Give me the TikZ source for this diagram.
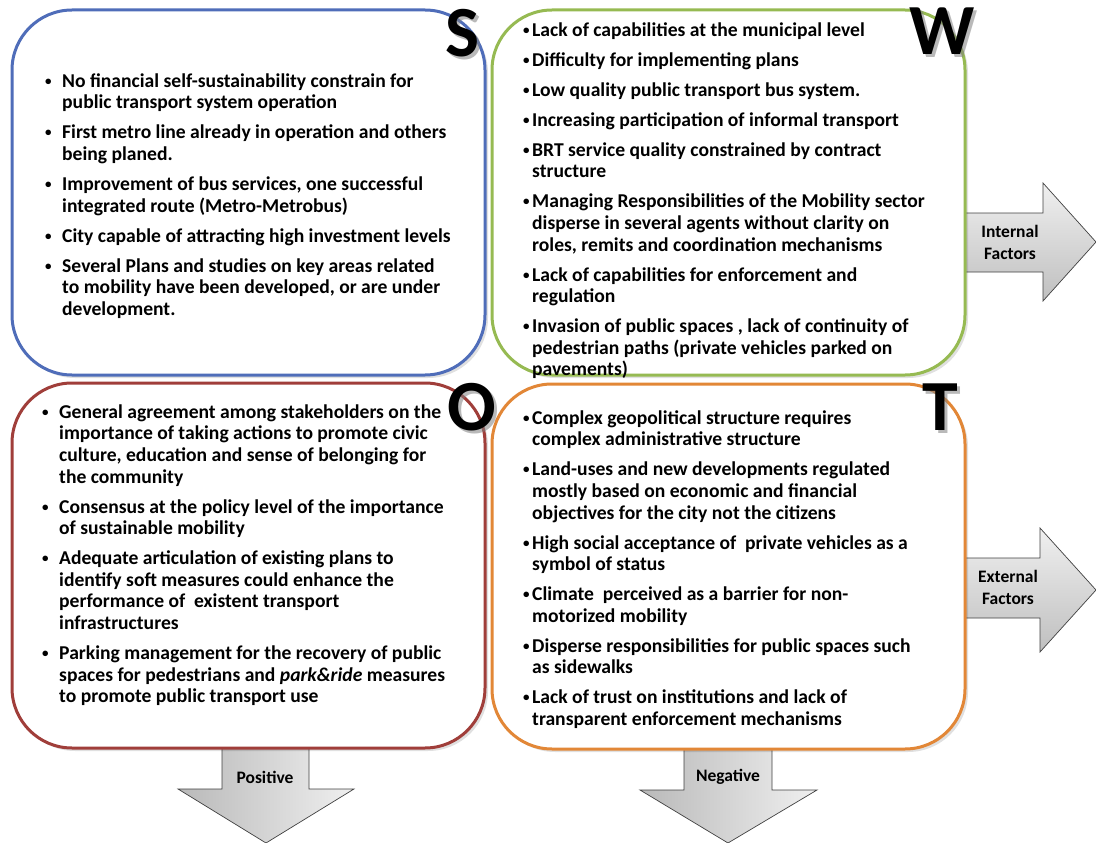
\documentclass[tikz,border=0pt]{standalone}
\usepackage{fontspec}
\setmainfont{Carlito}
\definecolor{sblue}{RGB}{79,109,185}
\definecolor{wgreen}{RGB}{150,186,82}
\definecolor{ored}{RGB}{160,62,58}
\definecolor{torange}{RGB}{226,135,55}
\newcommand{\swotbul}[1]{\llap{\makebox[#1pt][l]{\raisebox{2pt}{\fontsize{13}{13}\selectfont\textbullet}}}}
\begin{document}
\begin{tikzpicture}[x=1pt,y=-1pt,
  swotbox/.style={line width=3pt, rounded corners=60pt, fill=white, inner sep=0pt, minimum width=473pt, minimum height=365pt},
  boxshadow/.style={fill=black, opacity=0.12, rounded corners=60pt, inner sep=0pt, minimum width=473pt, minimum height=365pt},
  arrowshape/.style={draw=gray!50!black, line width=0.7pt},
  txt/.style={anchor=north west, align=left, inner sep=0pt, font=\fontsize{19.6}{21.6}\selectfont\bfseries},
  biglet/.style={anchor=base, inner sep=0pt, font=\fontsize{72}{72}\selectfont\bfseries},
  letshadow/.style={biglet, text=gray, opacity=0.55},
  lbl/.style={align=center, inner sep=0pt, font=\fontsize{17.5}{22}\selectfont\bfseries}
]
\useasboundingbox (0,0) rectangle (1096,843);

% arrows (behind the boxes)
\shadedraw[arrowshape, top color=gray!12, bottom color=gray!50]
  (940,213) -- (1043,213) -- (1043,183) -- (1096,242) -- (1043,301) -- (1043,272) -- (940,272) -- cycle;
\shadedraw[arrowshape, top color=gray!12, bottom color=gray!50]
  (940,558) -- (1040,558) -- (1040,528) -- (1096,590) -- (1040,652) -- (1040,618) -- (940,618) -- cycle;
\shadedraw[arrowshape, left color=gray!55, right color=gray!12]
  (222,740) -- (222,789) -- (178,789) -- (266,843) -- (354,789) -- (309,789) -- (309,740) -- cycle;
\shadedraw[arrowshape, left color=gray!55, right color=gray!12]
  (684,740) -- (684,790) -- (640,790) -- (728,843) -- (817,790) -- (772,790) -- (772,740) -- cycle;

\node[lbl] (internal) at (1010,242) {Internal\\Factors};
\node[lbl] (external) at (1008,587) {External\\Factors};
\node[lbl] (positive) at (265,777) {Positive};
\node[lbl] (negative) at (728,777) {Negative};

% shadows
\node[boxshadow] (Ssh) at (251.5,195.5) {};
\node[boxshadow] (Wsh) at (731.5,195.5) {};
\node[boxshadow] (Osh) at (251.5,568.5) {};
\node[boxshadow] (Tsh) at (731.5,569.5) {};

% boxes
\node[swotbox, draw=sblue] (Sbox) at (248.5,192.5) {};
\node[swotbox, draw=wgreen] (Wbox) at (728.5,192.5) {};
\node[swotbox, draw=ored] (Obox) at (248.5,565.5) {};
\node[swotbox, draw=torange] (Tbox) at (728.5,566.5) {};

% texts (first baseline = y + 15.12)
\node[txt] (Stext) at (62,71.9) {%
\strut\swotbul{17}No financial self-sustainability constrain for\\
public transport system operation\\[8.4pt]
\swotbul{17}First metro line already in operation and others\\
being planed.\\[8.4pt]
\swotbul{17}Improvement of bus services, one successful\\
integrated route (Metro-Metrobus)\\[8.4pt]
\swotbul{17}City capable of attracting high investment levels\\[8.4pt]
\swotbul{17}Several Plans and studies on key areas related\\
to mobility have been developed, or are under\\
development.};

\node[txt] (Wtext) at (532,20.9) {%
\strut\swotbul{9}Lack of capabilities at the municipal level\\[8.4pt]
\swotbul{9}Difficulty for implementing plans\\[8.4pt]
\swotbul{9}Low quality public transport bus system.\\[8.4pt]
\swotbul{9}Increasing participation of informal transport\\[8.4pt]
\swotbul{9}BRT service quality constrained by contract\\
structure\\[8.4pt]
\swotbul{9}Managing Responsibilities of the Mobility sector\\
disperse in several agents without clarity on\\
roles, remits and coordination mechanisms\\[8.4pt]
\swotbul{9}Lack of capabilities for enforcement and\\
regulation\\[8.4pt]
\swotbul{9}Invasion of public spaces , lack of continuity of\\
pedestrian paths (private vehicles parked on\\
pavements)};

\node[txt] (Otext) at (59,402.9) {%
\strut\swotbul{17}General agreement among stakeholders on the\\
importance of taking actions to promote civic\\
culture, education and sense of belonging for\\
the community\\[8.4pt]
\swotbul{17}Consensus at the policy level of the importance\\
of sustainable mobility\\[8.4pt]
\swotbul{17}Adequate articulation of existing plans to\\
identify soft measures could enhance the\\
performance of \ existent transport\\
infrastructures\\[8.4pt]
\swotbul{17}Parking management for the recovery of public\\
spaces for pedestrians and \textit{park\&ride} measures\\
to promote public transport use};

\node[txt] (Ttext) at (532,408.9) {%
\strut\swotbul{9}Complex geopolitical structure requires\\
complex administrative structure\\[8.4pt]
\swotbul{9}Land-uses and new developments regulated\\
mostly based on economic and financial\\
objectives for the city not the citizens\\[8.4pt]
\swotbul{9}High social acceptance of \ private vehicles as a\\
symbol of status\\[8.4pt]
\swotbul{9}Climate \ perceived as a barrier for non-\\
motorized mobility\\[8.4pt]
\swotbul{9}Disperse responsibilities for public spaces such\\
as sidewalks\\[8.4pt]
\swotbul{9}Lack of trust on institutions and lack of\\
transparent enforcement mechanisms};

% big letters
\node[letshadow] (Ssd) at (466,60) {S};
\node[biglet] (Slet) at (463,57) {S};
\node[letshadow] (Wsd) at (945,58) {W};
\node[biglet] (Wlet) at (942,55) {W};
\node[letshadow] (Osd) at (475,433) {O};
\node[biglet] (Olet) at (472,430) {O};
\node[letshadow] (Tsd) at (943,433) {T};
\node[biglet] (Tlet) at (940,430) {T};
\end{tikzpicture}
\end{document}
